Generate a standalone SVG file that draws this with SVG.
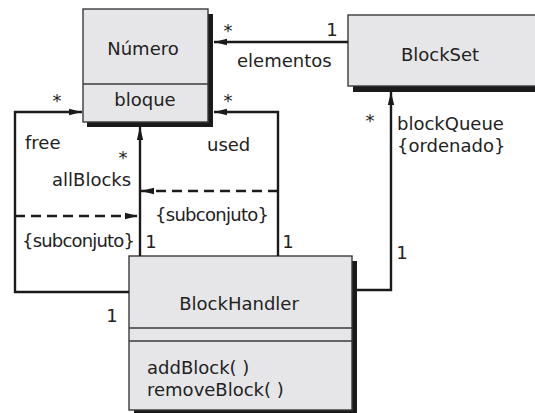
<svg xmlns="http://www.w3.org/2000/svg" width="535" height="413" viewBox="0 0 535 413">
<defs>
<style>
.t{font-family:"DejaVu Sans","Liberation Sans",sans-serif;font-size:18px;fill:#222}
.m{text-anchor:middle}
.box{fill:#e6e6e8;stroke:#3a3a3a;stroke-width:1.4}
.sh{fill:#1a1a1a}
.ln{fill:none;stroke:#3a3a3a;stroke-width:1.4}
.c{fill:none;stroke:#1a1a1a;stroke-width:2.4}
.d{stroke-dasharray:10 6}
</style>
<marker id="ah" markerUnits="userSpaceOnUse" markerWidth="14" markerHeight="8" refX="13" refY="4" orient="auto">
<path d="M0,0.8 L13,4 L0,7.2 z" fill="#1a1a1a"/>
</marker>
</defs>
<rect width="535" height="413" fill="#fff"/>
<g id="numero">
<rect class="sh" x="87" y="14" width="126" height="113"/>
<rect class="box" x="83" y="9" width="125" height="113"/>
<line class="ln" x1="83" y1="84" x2="208" y2="84"/>
<text class="t m" x="143" y="55">Número</text>
<text class="t m" x="145" y="106">bloque</text>
</g>
<g id="blockset">
<rect class="sh" x="353" y="20" width="200" height="72"/>
<rect class="box" x="348" y="15" width="200" height="71"/>
<text class="t m" x="440" y="61">BlockSet</text>
</g>
<g id="blockhandler">
<rect class="sh" x="134" y="261" width="223" height="160"/>
<rect class="box" x="129" y="256" width="223" height="154"/>
<line class="ln" x1="129" y1="328" x2="352" y2="328"/>
<line class="ln" x1="129" y1="341" x2="352" y2="341"/>
<text class="t m" x="239" y="310">BlockHandler</text>
<text class="t" x="147" y="374">addBlock( )</text>
<text class="t" x="147" y="396">removeBlock( )</text>
</g>
<g id="connectors">
<path class="c" d="M348,42 H214" marker-end="url(#ah)"/>
<path class="c" d="M278,256 V112 H214" marker-end="url(#ah)"/>
<path class="c" d="M129,292 H15 V112 H82" marker-end="url(#ah)"/>
<path class="c" d="M140,256 V127" marker-end="url(#ah)"/>
<path class="c" d="M357,290 H391 V92" marker-end="url(#ah)"/>
<path class="c d" d="M278,191 H141" marker-end="url(#ah)"/>
<path class="c d" d="M15,216 H138" marker-end="url(#ah)"/>
</g>
<g id="labels">
<text class="t m" x="228" y="37">*</text>
<text class="t m" x="332" y="36">1</text>
<text class="t" x="237" y="67">elementos</text>
<text class="t m" x="228" y="107">*</text>
<text class="t" x="207" y="151">used</text>
<text class="t m" x="288" y="248">1</text>
<text class="t m" x="57" y="107">*</text>
<text class="t" x="25" y="149">free</text>
<text class="t m" x="112" y="322">1</text>
<text class="t m" x="123" y="164">*</text>
<text class="t" x="52" y="186">allBlocks</text>
<text class="t m" x="151" y="248">1</text>
<text class="t" x="155" y="221" textLength="114">{subconjuto}</text>
<text class="t" x="22" y="247" textLength="113">{subconjuto}</text>
<text class="t m" x="370" y="127">*</text>
<text class="t" x="397" y="130">blockQueue</text>
<text class="t" x="397" y="152">{ordenado}</text>
<text class="t m" x="402" y="259">1</text>
</g>
</svg>
